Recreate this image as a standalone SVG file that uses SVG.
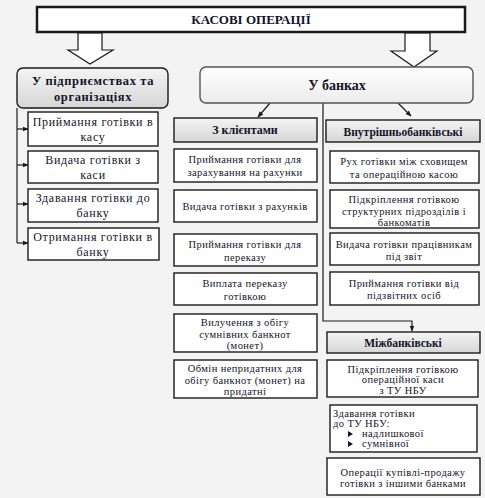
<svg xmlns="http://www.w3.org/2000/svg" width="485" height="498" viewBox="0 0 485 498">
<style>
text{font-family:"Times New Roman","Liberation Serif",Tinos,serif}
.t{fill:#14142a;text-anchor:middle}
.l{text-anchor:start}
.s{font-size:10.5px;letter-spacing:0.4px}
.m{font-size:12px;letter-spacing:0.7px}
.b{font-weight:bold}
.box{fill:#fff;stroke:#1a1a1a;stroke-width:1.4}
.hd{stroke:#1a1a1a;stroke-width:1.4}
.ln{fill:none;stroke:#1a1a1a;stroke-width:1.2}
.blk{fill:#fff;stroke:#1a1a1a;stroke-width:1.2}
</style>
<defs>
<marker id="ah" viewBox="0 0 10 10" refX="9" refY="5" markerWidth="6" markerHeight="6" orient="auto" markerUnits="userSpaceOnUse">
<path d="M0,1 L10,5 L0,9 z" fill="#1a1a1a"/>
</marker>
<linearGradient id="g1" x1="0" y1="0" x2="0" y2="1">
<stop offset="0" stop-color="#f4f4f4"/><stop offset="1" stop-color="#d6d6d6"/>
</linearGradient>
<linearGradient id="g2" x1="0" y1="0" x2="0" y2="1">
<stop offset="0" stop-color="#ffffff"/><stop offset="1" stop-color="#ececec"/>
</linearGradient>
</defs>
<rect x="0" y="0" width="485" height="498" fill="#f3f3f3"/>

<g id="connectors">
<path class="blk" d="M78,33 H102 V50 H113 L90,64 L68,50 H78 Z"/>
<path class="blk" d="M405,33 H430 V51 H437 L414,67 L391,51 H405 Z"/>
<path class="ln" d="M17,108 V243"/>
<path class="ln" d="M17,129 H28" marker-end="url(#ah)"/>
<path class="ln" d="M17,165 H28" marker-end="url(#ah)"/>
<path class="ln" d="M17,204 H28" marker-end="url(#ah)"/>
<path class="ln" d="M17,243 H28" marker-end="url(#ah)"/>
<path class="ln" d="M270,103 L258,117" marker-end="url(#ah)"/>
<path class="ln" d="M398,103 L411,116" marker-end="url(#ah)"/>
<path class="ln" d="M323,103 V321 H412 V331" marker-end="url(#ah)"/>
</g>

<g id="title">
<rect x="37" y="7" width="428" height="25" fill="#fff" stroke="#1a1a1a" stroke-width="2.5"/>
<text class="t b" x="251" y="24" font-size="13">КАСОВІ ОПЕРАЦІЇ</text>
</g>

<g id="enterprises">
<rect x="17" y="68" width="151" height="40" rx="6" fill="url(#g1)" class="hd"/>
<text class="t b" x="93" y="85" font-size="12.5" letter-spacing="0.6">У підприємствах та</text>
<text class="t b" x="93" y="101" font-size="12.5" letter-spacing="0.6">організаціях</text>
</g>

<g id="banks">
<rect x="200" y="67" width="273" height="36" rx="6" fill="url(#g2)" stroke="#555" stroke-width="1.4"/>
<text class="t b" x="337" y="90" font-size="14">У банках</text>
</g>

<g id="e1"><rect class="box" x="28" y="112" width="130" height="34"/>
<text class="t m" x="93" y="126">Приймання готівки в</text><text class="t m" x="93" y="141">касу</text></g>
<g id="e2"><rect class="box" x="28" y="151" width="130" height="32"/>
<text class="t m" x="93" y="164">Видача готівки з</text><text class="t m" x="93" y="179">каси</text></g>
<g id="e3"><rect class="box" x="28" y="189" width="130" height="33"/>
<text class="t m" x="93" y="202">Здавання готівки до</text><text class="t m" x="93" y="217">банку</text></g>
<g id="e4"><rect class="box" x="28" y="228" width="131" height="32"/>
<text class="t m" x="93" y="241">Отримання готівки в</text><text class="t m" x="93" y="256">банку</text></g>

<g id="clients"><rect x="174" y="118" width="143" height="24" fill="url(#g1)" class="hd"/>
<text class="t b" x="245" y="134" font-size="12">З клієнтами</text></g>
<g id="c1"><rect class="box" x="174" y="149" width="143" height="33"/>
<text class="t s" x="245" y="163">Приймання готівки для</text><text class="t s" x="245" y="176">зарахування на рахунки</text></g>
<g id="c2"><rect class="box" x="174" y="190" width="143" height="32"/>
<text class="t s" x="245" y="210">Видача готівки з рахунків</text></g>
<g id="c3"><rect class="box" x="174" y="234" width="143" height="32"/>
<text class="t s" x="245" y="248">Приймання готівки для</text><text class="t s" x="245" y="261">переказу</text></g>
<g id="c4"><rect class="box" x="174" y="273" width="143" height="32"/>
<text class="t s" x="245" y="287">Виплата переказу</text><text class="t s" x="245" y="300">готівкою</text></g>
<g id="c5"><rect class="box" x="174" y="314" width="143" height="38"/>
<text class="t s" x="245" y="326">Вилучення з обігу</text><text class="t s" x="245" y="338">сумнівних банкнот</text><text class="t s" x="245" y="349">(монет)</text></g>
<g id="c6"><rect class="box" x="174" y="360" width="143" height="38"/>
<text class="t s" x="245" y="372">Обмін непридатних для</text><text class="t s" x="245" y="384">обігу банкнот (монет) на</text><text class="t s" x="245" y="395">придатні</text></g>

<g id="internal"><rect x="326" y="120" width="154" height="22" fill="url(#g1)" class="hd"/>
<text class="t b" x="403" y="136" font-size="11.5">Внутрішньобанківські</text></g>
<g id="i1"><rect class="box" x="330" y="151" width="149" height="32"/>
<text class="t s" x="404" y="165">Рух готівки між сховищем</text><text class="t s" x="404" y="178">та операційною касою</text></g>
<g id="i2"><rect class="box" x="330" y="190" width="149" height="38"/>
<text class="t s" x="404" y="203">Підкріплення готівкою</text><text class="t s" x="404" y="215">структурних підрозділів і</text><text class="t s" x="404" y="226">банкоматів</text></g>
<g id="i3"><rect class="box" x="330" y="233" width="149" height="32"/>
<text class="t s" x="404" y="248">Видача готівки працівникам</text><text class="t s" x="404" y="260">під звіт</text></g>
<g id="i4"><rect class="box" x="330" y="272" width="149" height="33"/>
<text class="t s" x="404" y="287">Приймання готівки від</text><text class="t s" x="404" y="299">підзвітних осіб</text></g>

<g id="interbank"><rect x="327" y="332" width="153" height="21" fill="url(#g1)" class="hd"/>
<text class="t b" x="403" y="347" font-size="11.5">Міжбанківські</text></g>
<g id="m1"><rect class="box" x="327" y="360" width="151" height="37"/>
<text class="t s" x="403" y="373">Підкріплення готівкою</text><text class="t s" x="403" y="383">операційної каси</text><text class="t s" x="403" y="394">з ТУ НБУ</text></g>
<g id="m2"><rect class="box" x="330" y="405" width="147" height="47"/>
<text class="t s l" x="333" y="417">Здавання готівки</text>
<text class="t s l" x="333" y="427">до ТУ НБУ:</text>
<path d="M348,431 L353,434 L348,437 z M348,441 L353,444 L348,447 z" fill="#14142a"/>
<text class="t s l" x="362" y="437">надлишкової</text>
<text class="t s l" x="362" y="447">сумнівної</text></g>
<g id="m3"><rect class="box" x="327" y="458" width="153" height="37"/>
<text class="t s" x="403" y="476">Операції купівлі-продажу</text><text class="t s" x="403" y="487">готівки з іншими банками</text></g>
</svg>
